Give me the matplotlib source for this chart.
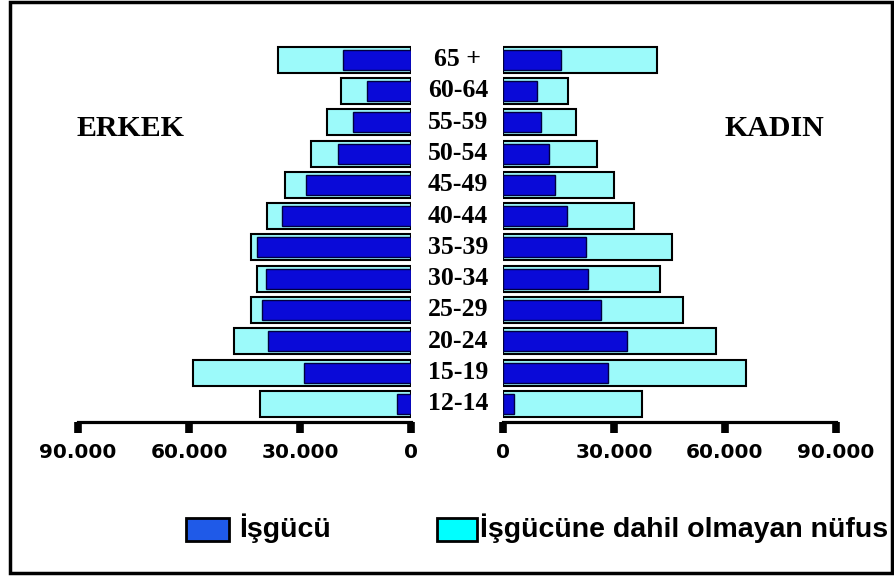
import matplotlib
matplotlib.use("Agg")
import matplotlib.pyplot as plt
from matplotlib.patches import Rectangle
from matplotlib.transforms import blended_transform_factory
from matplotlib.ticker import FuncFormatter

# age groups, bottom to top
ages = ["12-14", "15-19", "20-24", "25-29", "30-34", "35-39",
        "40-44", "45-49", "50-54", "55-59", "60-64", "65 +"]

# ERKEK (men)
erkek_toplam = [40800, 59000, 47800, 43200, 41600, 43200,
                38900, 34000, 26900, 22600, 18800, 35900]
erkek_isgucu = [3800, 29000, 38600, 40200, 39100, 41600,
                35000, 28300, 19600, 15800, 12000, 18500]

# KADIN (women)
kadin_toplam = [37500, 65800, 57600, 48600, 42400, 45700,
                35300, 29900, 25300, 19600, 17700, 41600]
kadin_isgucu = [3000, 28300, 33400, 26600, 23100, 22300,
                17400, 14100, 12500, 10300, 9200, 15800]

xticks = [0, 30000, 60000, 90000]

W, H = 894, 576
fig = plt.figure(figsize=(W / 100, H / 100), dpi=100)
fig.patch.set_facecolor("white")

dark = "#0a0ad8"
light = "#9cfafa"

def px(x, y):
    return x / W, 1 - y / H

bottom = 1 - 422 / H
top = 1 - 44 / H
axL = fig.add_axes([78 / W, bottom, (411 - 78) / W, top - bottom])
axR = fig.add_axes([503 / W, bottom, (836 - 503) / W, top - bottom])

ypos = list(range(len(ages)))
fmt = FuncFormatter(lambda v, p: "{:,}".format(int(v)).replace(",", "."))

for ax, tot, isg in [(axL, erkek_toplam, erkek_isgucu), (axR, kadin_toplam, kadin_isgucu)]:
    ax.barh(ypos, tot, height=0.83, color=light, edgecolor="black", linewidth=1.5, zorder=2)
    ax.barh(ypos, isg, height=0.64, color=dark, edgecolor="#000040", linewidth=1.0, zorder=3)
    ax.set_ylim(-0.58, 11.5)
    ax.set_facecolor("none")
    for s in ["top", "left", "right"]:
        ax.spines[s].set_visible(False)
    ax.spines["bottom"].set_linewidth(2.3)
    ax.set_yticks([])
    ax.set_xticks(xticks)
    ax.xaxis.set_major_formatter(fmt)
    ax.tick_params(axis="x", direction="out", length=8, width=5.5, pad=7)
    for lab in ax.get_xticklabels():
        lab.set_fontfamily("DejaVu Sans")
        lab.set_fontweight("bold")
        lab.set_fontsize(14.5)

axL.set_xlim(90000, 0)
axR.set_xlim(0, 90000)

# age labels in the middle column
tr = blended_transform_factory(fig.transFigure, axL.transData)
for i, a in enumerate(ages):
    axL.text(458 / W, i, a, transform=tr, ha="center", va="center",
             family="Liberation Serif", fontweight="bold", fontsize=18.5, clip_on=False)

fig.text(*px(130, 129), "ERKEK", ha="center", va="center",
         family="Liberation Serif", fontweight="bold", fontsize=21.5)
fig.text(*px(774, 129), "KADIN", ha="center", va="center",
         family="Liberation Serif", fontweight="bold", fontsize=21.5)

# legend
x0, y0 = px(186, 541)
fig.patches.append(Rectangle((x0, y0), 43 / W, 23 / H, transform=fig.transFigure,
                             facecolor="#1f5ae8", edgecolor="black", linewidth=2))
fig.text(*px(239, 528), "İşgücü", ha="left", va="center",
         family="Liberation Sans", fontweight="bold", fontsize=20.5)
x0, y0 = px(437, 541)
fig.patches.append(Rectangle((x0, y0), 40 / W, 23 / H, transform=fig.transFigure,
                             facecolor="#00ffff", edgecolor="black", linewidth=2))
fig.text(*px(480, 528), "İşgücüne dahil olmayan nüfus", ha="left", va="center",
         family="Liberation Sans", fontweight="bold", fontsize=20.5)

# outer frame
x0, y0 = px(10, 573)
fig.patches.append(Rectangle((x0, y0), (892 - 10) / W, (573 - 2) / H, transform=fig.transFigure,
                             fill=False, edgecolor="black", linewidth=2.5))

fig.savefig("out.png", dpi=100)
